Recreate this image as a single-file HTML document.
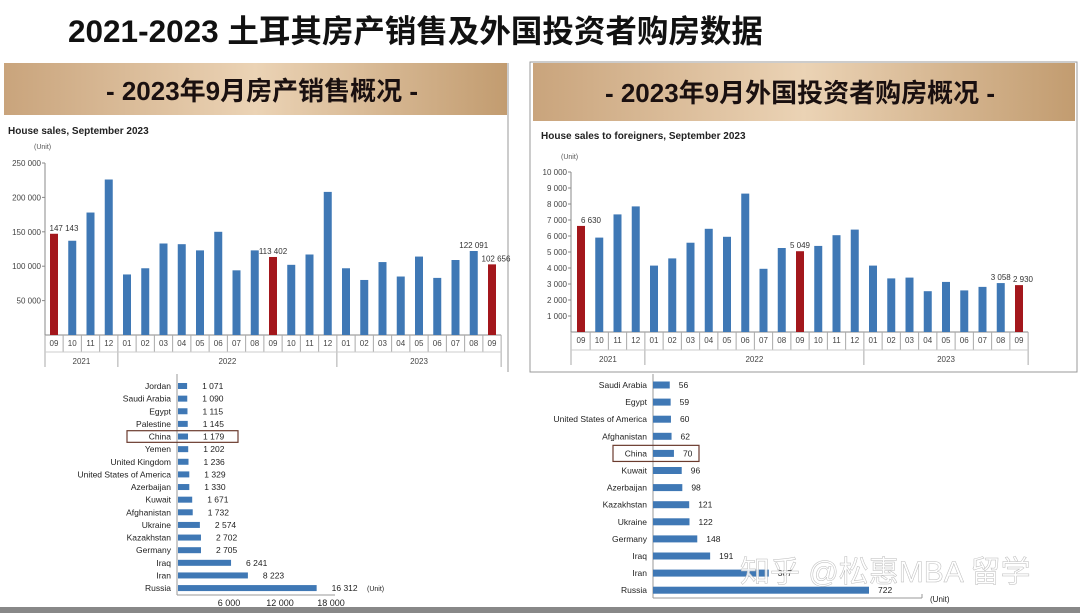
<!DOCTYPE html>
<html><head><meta charset="utf-8">
<style>
body{margin:0;background:#fff;}
svg{display:block;font-family:"Liberation Sans","Noto Sans CJK SC",sans-serif;}
</style></head>
<body>
<svg id="s" width="1080" height="613" viewBox="0 0 1080 613" xmlns="http://www.w3.org/2000/svg">
<defs>
<linearGradient id="hg" x1="0" x2="1" y1="0" y2="0">
<stop offset="0" stop-color="#c9a47c"/><stop offset="0.5" stop-color="#ebd3b5"/><stop offset="1" stop-color="#c29c70"/>
</linearGradient>
</defs>
<rect width="1080" height="613" fill="#fff"/>
<text x="68" y="42" font-size="31.5" font-weight="bold" fill="#111">2021-2023 土耳其房产销售及外国投资者购房数据</text>
<rect x="4" y="63" width="503" height="52" fill="url(#hg)"/>
<text x="262" y="100" font-size="26" font-weight="bold" text-anchor="middle" fill="#1a1010">- 2023年9月房产销售概况 -</text>
<rect x="533" y="63" width="542" height="58" fill="url(#hg)"/>
<text x="800" y="102" font-size="26" font-weight="bold" text-anchor="middle" fill="#1a1010">- 2023年9月外国投资者购房概况 -</text>
<line x1="508" y1="63" x2="508" y2="372" stroke="#999" stroke-width="1"/>
<rect x="530" y="62" width="547" height="310" fill="none" stroke="#999" stroke-width="1"/>
<text x="8" y="134" font-size="10" font-weight="bold" fill="#222">House sales, September 2023</text>
<text x="34" y="149" font-size="7" fill="#555">(Unit)</text>
<text x="541" y="139" font-size="10" font-weight="bold" fill="#222">House sales to foreigners, September 2023</text>
<text x="561" y="159" font-size="7" fill="#555">(Unit)</text>
<g id="gL"></g><g id="gR"></g><g id="gBL"></g><g id="gBR"></g>
<rect x="0" y="607" width="1080" height="6" fill="#888"/>
<text x="740" y="582" font-size="30" fill="#fff" fill-opacity="0.85" stroke="#bbb" stroke-width="0.5">知乎 @松惠MBA 留学</text>
</svg>
<script>
const months=["09","10","11","12","01","02","03","04","05","06","07","08","09","10","11","12","01","02","03","04","05","06","07","08","09"];
const salesTotal=[147143,137000,178000,226000,88000,97000,133000,132000,123000,150000,94000,123000,113402,102000,117000,208000,97000,80000,106000,85000,114000,83000,109000,122091,102656];
const salesForeign=[6630,5900,7350,7850,4150,4600,5580,6450,5950,8650,3950,5250,5049,5380,6050,6400,4150,3350,3400,2550,3130,2600,2820,3058,2930];
const highlight=[0,12,24];
const labelsTotal={0:"147 143",12:"113 402",23:"122 091",24:"102 656"};
const labelsForeign={0:"6 630",12:"5 049",23:"3 058",24:"2 930"};
const ticksTotal=[50000,100000,150000,200000,250000];
const tickTextTotal=["50 000","100 000","150 000","200 000","250 000"];
const ticksForeign=[1000,2000,3000,4000,5000,6000,7000,8000,9000,10000];
const tickTextForeign=["1 000","2 000","3 000","4 000","5 000","6 000","7 000","8 000","9 000","10 000"];
const years=["2021","2022","2023"];
const countriesAll=["Jordan","Saudi Arabia","Egypt","Palestine","China","Yemen","United Kingdom","United States of America","Azerbaijan","Kuwait","Afghanistan","Ukraine","Kazakhstan","Germany","Iraq","Iran","Russia"];
const valuesAll=[1071,1090,1115,1145,1179,1202,1236,1329,1330,1671,1732,2574,2702,2705,6241,8223,16312];
const countriesSep=["Saudi Arabia","Egypt","United States of America","Afghanistan","China","Kuwait","Azerbaijan","Kazakhstan","Ukraine","Germany","Iraq","Iran","Russia"];
const valuesSep=[56,59,60,62,70,96,98,121,122,148,191,387,722];
const bottomTicks=[6000,12000,18000];
const bottomTickText=["6 000","12 000","18 000"];

const NS="http://www.w3.org/2000/svg";
function mk(p,t,a,txt){const e=document.createElementNS(NS,t);for(const k in a)e.setAttribute(k,a[k]);if(txt!==undefined)e.textContent=txt;p.appendChild(e);return e;}
const blue="#3f78b5",red="#a3171c";

function columnChart(g,vals,max,ax,y0,yTop,x0,step,ticks,tt,labels,catBottom,yearBottom,prefix){
  const sy=v=>y0-(v/max)*(y0-yTop);
  const sx=i=>x0+i*step;
  mk(g,"line",{x1:ax,y1:yTop,x2:ax,y2:y0,stroke:"#888"});
  ticks.forEach((t,i)=>{
    mk(g,"line",{x1:ax-3,y1:sy(t),x2:ax,y2:sy(t),stroke:"#888"});
    const e=mk(g,"text",{x:ax-4,y:sy(t)+3,"font-size":8,"text-anchor":"end",fill:"#444"},tt[i]);
    
    
  });
  mk(g,"line",{x1:ax,y1:y0,x2:sx(vals.length-1)+step/2,y2:y0,stroke:"#888"});
  vals.forEach((v,i)=>{
    const r=mk(g,"rect",{x:sx(i)-4,y:sy(v),width:8,height:y0-sy(v),fill:highlight.includes(i)?red:blue});
    
    
    mk(g,"line",{x1:sx(i)+step/2,y1:y0,x2:sx(i)+step/2,y2:catBottom,stroke:"#aaa"});
    const c=mk(g,"text",{x:sx(i),y:y0+11,"font-size":8,"text-anchor":"middle",fill:"#444"},months[i]);
    
    
    if(labels[i]!==undefined){
      const dx=(i===0?10:(i===24?4:0));
      const t=mk(g,"text",{x:sx(i)+dx,y:sy(v)-3,"font-size":8,"text-anchor":"middle",fill:"#333"},labels[i]);
      
      
    }
  });
  mk(g,"line",{x1:ax,y1:y0,x2:ax,y2:yearBottom,stroke:"#aaa"});
  mk(g,"line",{x1:sx(3)+step/2,y1:catBottom,x2:sx(3)+step/2,y2:yearBottom,stroke:"#aaa"});
  mk(g,"line",{x1:sx(15)+step/2,y1:catBottom,x2:sx(15)+step/2,y2:yearBottom,stroke:"#aaa"});
  mk(g,"line",{x1:sx(24)+step/2,y1:catBottom,x2:sx(24)+step/2,y2:yearBottom,stroke:"#aaa"});
  mk(g,"line",{x1:ax,y1:catBottom,x2:sx(24)+step/2,y2:catBottom,stroke:"#ccc"});
  const yc=[(ax+sx(3)+step/2)/2,(sx(3)+sx(15)+step)/2,(sx(15)+sx(24)+step)/2];
  years.forEach((y,i)=>{
    const e=mk(g,"text",{x:yc[i],y:yearBottom-3,"font-size":8,"text-anchor":"middle",fill:"#444"},y);
    
    
  });
}
columnChart(document.getElementById("gL"),salesTotal,250000,45,335,163,54,18.25,ticksTotal,tickTextTotal,labelsTotal,352,367,"sales");
columnChart(document.getElementById("gR"),salesForeign,10000,571,332,172,581,18.25,ticksForeign,tickTextForeign,labelsForeign,350,365,"foreign");

function barChart(g,names,vals,ax,x0,scale,yFirst,step,bh,prefix,boxL,boxR,fs){
  names.forEach((n,i)=>{
    const y=yFirst+i*step;
    const t=mk(g,"text",{x:ax-6,y:y+3,"font-size":fs,"text-anchor":"end",fill:"#222"},n);
    
    
    const w=vals[i]*scale;
    const r=mk(g,"rect",{x:x0,y:y-bh/2,width:w,height:bh,fill:blue});
    
    
    const v=mk(g,"text",{x:x0+w+(prefix==="all"?15:9),y:y+3,"font-size":fs,fill:"#222"},vals[i].toLocaleString('en-US').replace(/,/g,' '));
    
    
    if(n==="China"){
      const b=mk(g,"rect",{x:boxL,y:y-step/2+0.5,width:boxR-boxL,height:step-1,fill:"none",stroke:"#6b3b2e","stroke-width":1.2});
      
      
    }
  });
}
const gBL=document.getElementById("gBL");
mk(gBL,"line",{x1:177,y1:374,x2:177,y2:595,stroke:"#999"});
mk(gBL,"line",{x1:177,y1:595,x2:335,y2:595,stroke:"#999"});
barChart(gBL,countriesAll,valuesAll,177,178,51/6000,386,12.63,6,"all",127,238,8.5);
bottomTicks.forEach((t,i)=>{
  const e=mk(gBL,"text",{x:178+t*51/6000,y:606,"font-size":9,"text-anchor":"middle",fill:"#222"},bottomTickText[i]);
  
  
});
mk(gBL,"text",{x:367,y:591,"font-size":7,fill:"#222"},"(Unit)");
const gBR=document.getElementById("gBR");
mk(gBR,"line",{x1:653,y1:374,x2:653,y2:598,stroke:"#999"});
mk(gBR,"line",{x1:653,y1:598,x2:922,y2:598,stroke:"#999"});
mk(gBR,"line",{x1:922,y1:594,x2:922,y2:598,stroke:"#999"});
barChart(gBR,countriesSep,valuesSep,653,653,216/722,385,17.1,7,"sep",613,699,8.5);
mk(gBR,"text",{x:930,y:602,"font-size":8,fill:"#222"},"(Unit)");
</script>
</body></html>
